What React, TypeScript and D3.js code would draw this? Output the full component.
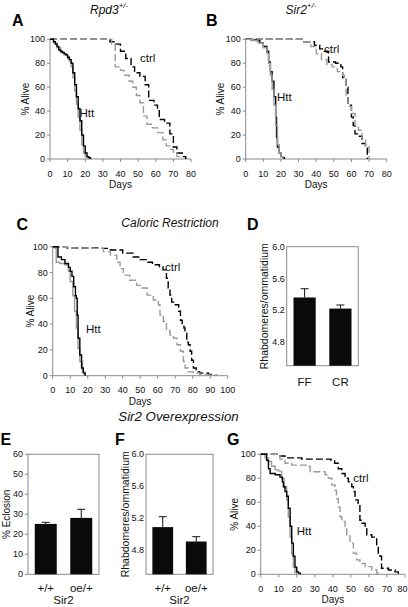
import React from "react";
import * as d3 from "d3";

type Pt = [number, number];

// ---------- Survival data: [day, % alive] ----------
const A_httBlack: Pt[] = [[0,100],[2,98],[3,96],[4,94],[5,91],[6,90],[7,89],[8,88],[9,87],[10,85],[11,83],[12,80],[13,72],[14,62],[15,52],[16,42],[17,32],[18,20],[19,11],[20,5],[21,2],[22,1],[23,0]];
const A_httGray: Pt[] = [[0,100],[2,97],[4,93],[6,89],[8,87],[10,84],[11,82],[12,77],[13,68],[14,57],[15,46],[16,35],[17,24],[18,12],[19,5],[20,2],[21,0]];
const A_ctrlBlack: Pt[] = [[0,100],[34,98],[37,96],[40,90],[43,84],[46,77],[48,72],[51,69],[54,62],[56,49],[59,45],[61,41],[62,33],[65,30],[68,21],[70,10],[72,5],[75,2],[77,0]];
const A_ctrlGray: Pt[] = [[0,100],[35,96],[37,77],[40,74],[42,70],[45,65],[47,60],[49,53],[51,47],[53,36],[55,29],[58,26],[61,22],[64,16],[66,11],[68,8],[70,5],[72,2],[74,0]];

const B_httBlack: Pt[] = [[0,100],[3,99.5],[6,99],[8,97],[10,94],[12,90],[13,81],[14,73],[15,65],[16,52],[17,35],[17.5,18],[18,10],[19,5],[20,2],[21,1],[22,0]];
const B_httGray: Pt[] = [[0,100],[4,99],[7,97],[10,93],[12,88],[13,80],[14,70],[15,58],[16,45],[17,28],[18,12],[19,5],[20,2],[21,0]];
const B_ctrlBlack: Pt[] = [[0,100],[33,98],[39,95],[42,92],[44,90],[47,81],[51,80],[54,77],[55,68],[57,60],[58,45],[60,35],[61,28],[62,21],[64,19],[66,13],[68,9],[69,0]];
const B_ctrlGray: Pt[] = [[0,100],[33,98],[37,94],[40,88],[43,83],[46,79],[49,77],[52,73],[55,70],[56,66],[57,52],[58,44],[60,38],[62,28],[64,24],[66,16],[68,10],[70,0]];

const C_httBlack: Pt[] = [[0,100],[2,100],[3,92],[5,90],[7,87],[9,84],[10,81],[11,77],[12,69],[13,62],[13.5,60],[14,47],[14.5,29],[15.5,16],[16.5,6],[17.5,2],[18.5,0]];
const C_httGray: Pt[] = [[0,100],[1,99],[2,88],[4,87],[7,86],[9,81],[10,73],[11.5,62],[12.5,50],[13.5,37],[14.5,21],[15.5,11],[17,3],[18.5,0]];
const C_ctrlBlack: Pt[] = [[0,100],[8,99],[27,98.7],[33,97.4],[40,95],[46,92],[50,90],[54,88],[57,86],[61,84.5],[63,82],[65,75.5],[66,68],[67,62.5],[68,57],[70,55],[72,50],[73,43],[74,39],[75,37],[75.6,33],[76.6,26],[77.5,24],[78.5,19],[79.4,12],[80.4,6],[82,3],[84,2],[89,1],[92,0]];
const C_ctrlGray: Pt[] = [[0,100],[8,99],[23,98.7],[29,96],[33,93.5],[36.6,88],[38.5,83],[40.4,78],[44,74],[48,70],[50,68],[54,62.5],[57.5,58.7],[60.4,55],[61.3,47],[63.2,42],[65,35],[67,31.5],[69,29],[71,24],[73,19],[74.7,11],[75.6,6],[77.5,3],[80.4,2],[84,0.5],[94,0]];

const G_httBlack: Pt[] = [[0,100],[3,100],[3.3,95],[4.3,88],[5.2,84],[8,83],[10.7,81],[12,77],[12.6,73],[13.5,69],[14.4,65],[15.3,55],[16.3,40],[17.2,26],[18.1,15],[19,6],[20,2],[21,1],[22,0]];
const G_httGray: Pt[] = [[0,100],[2.4,97],[4.3,94],[6,90],[8,87],[9.8,86],[11.6,80],[13,73],[14.4,62],[15.3,48],[16.3,31],[17.2,17],[18.1,6],[19,1.5],[20,0]];
const G_ctrlBlack: Pt[] = [[0,100],[9.8,98.6],[13.5,97],[22.7,96],[39,95],[41,92.5],[43,88],[45,84],[46.8,80],[48.6,77],[50.5,73],[51.4,69],[52.3,62],[54,58],[55,45],[56,42.5],[57.9,38],[58.8,33],[61.6,31],[64.3,24.5],[65.2,17.5],[66.2,15],[67,5],[70.8,3.6],[74.5,2],[76.3,0]];
const G_ctrlGray: Pt[] = [[0,100],[8,100],[10.7,96],[13.5,92.5],[17.2,91],[26.4,90],[27.4,85.5],[35.7,83],[37.5,80],[39.4,74.5],[41.2,70],[42,63],[43,56],[44,48],[45,44],[46.8,40],[47.7,33],[49.5,26],[51.4,17.5],[53.2,12],[55,9],[57.9,6.4],[61.6,3.6],[64.3,1],[66,0]];

// ---------- Bar data ----------
const D_categories = ["FF", "CR"];
const D_values = [5.36, 5.22];
const D_errors = [0.11, 0.045];
const D_ticks = [4.8, 5.2, 5.6, 6.0];

const E_categories = ["+/+", "oe/+"];
const E_values = [25.2, 28.2];
const E_errors = [0.8, 4.3];
const E_ticks = [0, 10, 20, 30, 40, 50, 60];

const F_categories = ["+/+", "oe/+"];
const F_values = [5.09, 4.91];
const F_errors = [0.13, 0.06];
const F_ticks = [4.8, 5.2, 5.6, 6.0];

const FONT = "'Liberation Sans', Arial, Helvetica, sans-serif";
const AXIS = "#8a8a8a";
const GRAY = "#9a9a9a";
const W = 408;

interface Series { data: Pt[]; color: string; dashed: boolean }

function Survival(p: {
  left: number; right: number; top: number; bottom: number; xMax: number;
  series: Series[]; ctrl: [number, number]; htt: [number, number]; ylabX: number;
}) {
  const x = d3.scaleLinear().domain([0, p.xMax]).range([p.left, p.right]);
  const y = d3.scaleLinear().domain([0, 100]).range([p.bottom, p.top]);
  const line = d3.line<Pt>().x(d => x(d[0])).y(d => y(d[1])).curve(d3.curveStepAfter);
  const xt = d3.range(0, p.xMax + 1, 10);
  const yt = d3.range(0, 101, 20);
  return (
    <g fontFamily={FONT}>
      <line x1={p.left} x2={p.left} y1={p.top} y2={p.bottom} stroke={AXIS} />
      <line x1={p.left} x2={p.right} y1={p.bottom} y2={p.bottom} stroke={AXIS} />
      {yt.map(t => (
        <g key={"y" + t}>
          <line x1={p.left - 3} x2={p.left} y1={y(t)} y2={y(t)} stroke={AXIS} />
          <text x={p.left - 5} y={y(t)} dy="0.35em" textAnchor="end" fontSize={9} fill="#111">{t}</text>
        </g>
      ))}
      {xt.map(t => (
        <g key={"x" + t}>
          <line x1={x(t)} x2={x(t)} y1={p.bottom} y2={p.bottom + 3} stroke={AXIS} />
          <text x={Math.min(x(t), W - 5.5)} y={p.bottom + 17.5} textAnchor="middle" fontSize={9} fill="#111">{t}</text>
        </g>
      ))}
      <text x={(p.left + p.right) / 2} y={p.bottom + 29} textAnchor="middle" fontSize={10} fill="#111">Days</text>
      <text transform={`translate(${p.ylabX},${(p.top + p.bottom) / 2}) rotate(-90)`} textAnchor="middle" fontSize={10} fill="#111">% Alive</text>
      {p.series.map((s, i) => (
        <path key={i} d={line(s.data) || ""} fill="none" stroke={s.color} strokeWidth={1.4}
          strokeDasharray={s.dashed ? "7,3" : undefined} />
      ))}
      <text x={p.ctrl[0]} y={p.ctrl[1]} fontSize={11.5} fill="#111">ctrl</text>
      <text x={p.htt[0]} y={p.htt[1]} fontSize={11.5} fill="#111">Htt</text>
    </g>
  );
}

function Bars(p: {
  left: number; right: number; top: number; bottom: number; domain: [number, number];
  ticks: number[]; fmt: (v: number) => string; cats: string[]; vals: number[]; errs: number[];
  tickLen: number; ylab: string; ylabX: number; ylabSize: number; catSize: number; catDy: number; sub?: string;
}) {
  const x = d3.scaleBand<string>().domain(p.cats).range([p.left, p.right]).padding(0);
  const y = d3.scaleLinear().domain(p.domain).range([p.bottom, p.top]);
  const bw = x.bandwidth() * 0.62;
  return (
    <g fontFamily={FONT}>
      <rect x={p.left} y={p.top} width={p.right - p.left} height={p.bottom - p.top} fill="none" stroke={AXIS} />
      {p.ticks.map(t => (
        <g key={t}>
          {p.tickLen > 0 && <line x1={p.left - p.tickLen} x2={p.left} y1={y(t)} y2={y(t)} stroke={AXIS} />}
          <text x={p.left - p.tickLen - 2} y={y(t)} dy="0.35em" textAnchor="end" fontSize={9} fill="#111">{p.fmt(t)}</text>
        </g>
      ))}
      {p.cats.map((c, i) => {
        const cx = (x(c) as number) + x.bandwidth() / 2;
        return (
          <g key={c}>
            <rect x={cx - bw / 2} y={y(p.vals[i])} width={bw} height={p.bottom - y(p.vals[i])} fill="#0a0a0a" />
            <line x1={cx} x2={cx} y1={y(p.vals[i])} y2={y(p.vals[i] + p.errs[i])} stroke="#111" strokeWidth={1} />
            <line x1={cx - 4} x2={cx + 4} y1={y(p.vals[i] + p.errs[i])} y2={y(p.vals[i] + p.errs[i])} stroke="#111" strokeWidth={1} />
            <text x={cx} y={p.bottom + p.catDy} textAnchor="middle" fontSize={p.catSize} fill="#111">{c}</text>
          </g>
        );
      })}
      {p.sub && <text x={(p.left + p.right) / 2} y={p.bottom + 29.7} textAnchor="middle" fontSize={11.5} fill="#111">{p.sub}</text>}
      <text transform={`translate(${p.ylabX},${(p.top + p.bottom) / 2}) rotate(-90)`} textAnchor="middle" fontSize={p.ylabSize} fill="#111">{p.ylab}</text>
    </g>
  );
}

function Letter({ x, y, t }: { x: number; y: number; t: string }) {
  return <text x={x} y={y} fontFamily={FONT} fontWeight="bold" fontSize={16} fill="#000">{t}</text>;
}

export default function App() {
  const f1 = d3.format(".1f");
  return (
    <svg width={408} height={607} style={{ position: "absolute", left: 0, top: 0, background: "#fff" }}>
      <rect width={408} height={607} fill="#fff" />
      <text x={90} y={14} fontFamily={FONT} fontStyle="italic" fontSize={12} fill="#111">
        Rpd3<tspan fontSize={8} dy={-6.5}>+/-</tspan>
      </text>
      <text x={285.5} y={14} fontFamily={FONT} fontStyle="italic" fontSize={12} fill="#111">
        Sir2<tspan fontSize={8} dy={-6.5}>+/-</tspan>
      </text>
      <text x={170} y={226.7} textAnchor="middle" fontFamily={FONT} fontStyle="italic" fontSize={12} fill="#111">Caloric Restriction</text>
      <text x={178.5} y={420.7} textAnchor="middle" fontFamily={FONT} fontStyle="italic" fontSize={13.3} fill="#111">Sir2 Overexpression</text>

      <Letter x={12} y={26} t="A" />
      <Letter x={206} y={26} t="B" />
      <Letter x={16.5} y={230} t="C" />
      <Letter x={247} y={230} t="D" />
      <Letter x={0.5} y={445} t="E" />
      <Letter x={115} y={445} t="F" />
      <Letter x={227} y={445} t="G" />

      <Survival left={50} right={191} top={39.3} bottom={159} xMax={80} ylabX={28.6}
        series={[
          { data: A_ctrlBlack, color: "#000", dashed: true },
          { data: A_ctrlGray, color: GRAY, dashed: true },
          { data: A_httGray, color: GRAY, dashed: false },
          { data: A_httBlack, color: "#000", dashed: false },
        ]}
        ctrl={[140, 61.7]} htt={[79.5, 116.5]} />

      <Survival left={245.7} right={386.7} top={39.3} bottom={159} xMax={80} ylabX={224.3}
        series={[
          { data: B_ctrlBlack, color: "#000", dashed: true },
          { data: B_ctrlGray, color: GRAY, dashed: true },
          { data: B_httBlack, color: "#000", dashed: false },
          { data: B_httGray, color: GRAY, dashed: false },
        ]}
        ctrl={[324, 52.7]} htt={[277, 100.7]} />

      <Survival left={52.7} right={227.7} top={246.7} bottom={375.7} xMax={100} ylabX={33.6}
        series={[
          { data: C_ctrlBlack, color: "#000", dashed: true },
          { data: C_ctrlGray, color: GRAY, dashed: true },
          { data: C_httGray, color: GRAY, dashed: false },
          { data: C_httBlack, color: "#000", dashed: false },
        ]}
        ctrl={[165, 271]} htt={[86, 333]} />

      <Survival left={260.7} right={405} top={454.3} bottom={574.3} xMax={80} ylabX={237.5}
        series={[
          { data: G_ctrlBlack, color: "#000", dashed: true },
          { data: G_ctrlGray, color: GRAY, dashed: true },
          { data: G_httGray, color: GRAY, dashed: false },
          { data: G_httBlack, color: "#000", dashed: false },
        ]}
        ctrl={[353.3, 481.7]} htt={[296.7, 535]} />

      <Bars left={286.7} right={358.3} top={246.7} bottom={365.7} domain={[4.5, 6.0]} ticks={D_ticks} fmt={f1}
        cats={D_categories} vals={D_values} errs={D_errors} tickLen={0}
        ylab="Rhabdomeres/ommatidium" ylabX={268} ylabSize={10.5} catSize={11.5} catDy={20.5} />

      <Bars left={28} right={99} top={454.3} bottom={574.3} domain={[0, 60]} ticks={E_ticks} fmt={d3.format("d")}
        cats={E_categories} vals={E_values} errs={E_errors} tickLen={3}
        ylab="% Eclosion" ylabX={9.5} ylabSize={10} catSize={11.5} catDy={17.7} sub="Sir2" />

      <Bars left={146} right={213} top={454.3} bottom={574.3} domain={[4.5, 6.0]} ticks={F_ticks} fmt={f1}
        cats={F_categories} vals={F_values} errs={F_errors} tickLen={0}
        ylab="Rhabdomeres/ommatidium" ylabX={129} ylabSize={10.5} catSize={11.5} catDy={17.7} sub="Sir2" />
    </svg>
  );
}
